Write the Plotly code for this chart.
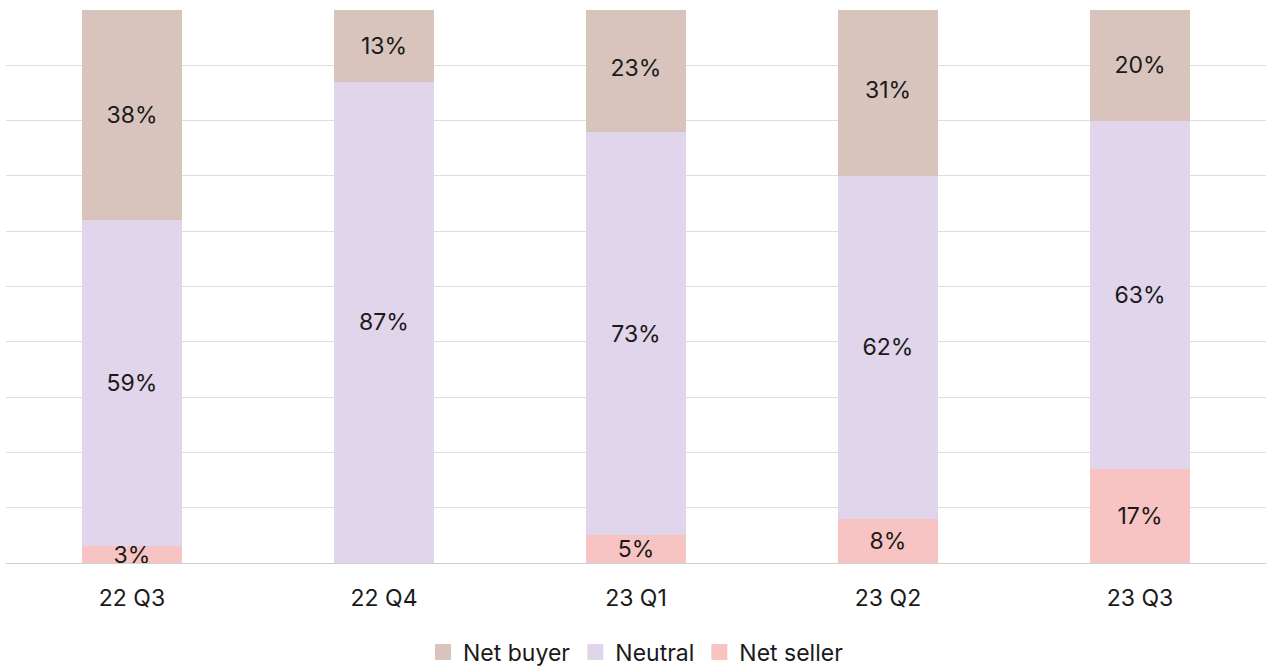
import plotly.graph_objects as go

quarters = ["22 Q3", "22 Q4", "23 Q1", "23 Q2", "23 Q3"]
net_seller = [3, 0, 5, 8, 17]
neutral = [59, 87, 73, 62, 63]
net_buyer = [38, 13, 23, 31, 20]

colors = {
    "Net seller": "#f8c4c3",
    "Neutral": "#e0d5ea",
    "Net buyer": "#d9c4bd",
}

FONT = "Inter, Roboto, sans-serif"
TEXT = "#1a1a1a"
SIZE = 23

series = [("Net seller", net_seller), ("Neutral", neutral), ("Net buyer", net_buyer)]

fig = go.Figure()
for name, vals in series:
    fig.add_trace(go.Bar(
        x=quarters,
        y=vals,
        name=name,
        marker=dict(color=colors[name], line=dict(width=0)),
        text=[f"{v}%" if v else "" for v in vals],
        textposition="inside",
        insidetextanchor="middle",
        textfont=dict(family=FONT, size=SIZE, color=TEXT),
        hoverinfo="skip",
        showlegend=False,
    ))

# square legend swatches
for name, _ in series:
    fig.add_trace(go.Scatter(
        x=[None], y=[None],
        mode="markers",
        name=name,
        marker=dict(symbol="square", size=17, color=colors[name]),
        showlegend=True,
    ))

fig.update_layout(
    barmode="stack",
    bargap=0.6,
    width=1268,
    height=666,
    margin=dict(l=6, r=2, t=10, b=103, autoexpand=False),
    paper_bgcolor="white",
    plot_bgcolor="white",
    font=dict(family=FONT, size=SIZE, color=TEXT),
    uniformtext=dict(minsize=SIZE, mode="show"),
    showlegend=True,
    legend=dict(
        orientation="h",
        traceorder="reversed",
        x=0.5, xanchor="center",
        y=-0.161, yanchor="middle",
        font=dict(family=FONT, size=SIZE, color=TEXT),
        itemwidth=30,
    ),
    xaxis=dict(
        showgrid=False,
        showline=False,
        ticks="outside",
        ticklen=14,
        tickcolor="rgba(0,0,0,0)",
        tickfont=dict(family=FONT, size=SIZE, color=TEXT),
    ),
    yaxis=dict(
        range=[0, 100],
        dtick=10,
        showgrid=True,
        gridcolor="#dedede",
        gridwidth=1,
        zeroline=True,
        zerolinecolor="#cfcfcf",
        zerolinewidth=1,
        showticklabels=False,
        fixedrange=True,
    ),
)

fig.write_html("out.html")
